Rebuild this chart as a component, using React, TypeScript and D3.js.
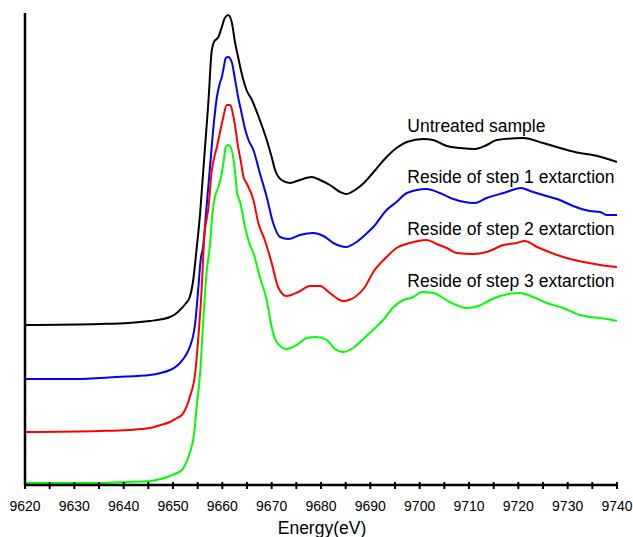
import React, { useEffect, useRef } from "react";
import * as d3 from "d3";

// [energy (eV), normalised absorbance + offset]
const untreated: [number, number][] = [
  [9620, 1.6], [9635.2, 1.61], [9641, 1.62], [9645.3, 1.64], [9648, 1.66],
  [9649.4, 1.68], [9650.5, 1.71], [9651.4, 1.75], [9652.5, 1.81],
  [9653.4, 1.88], [9654.1, 2.05], [9654.7, 2.32], [9655.5, 2.72], [9656.1, 3.12],
  [9656.8, 3.58], [9657.2, 3.85], [9657.8, 4.32], [9658.3, 4.43], [9659.2, 4.48],
  [9659.9, 4.58], [9660.5, 4.67], [9661.2, 4.7], [9661.9, 4.63], [9662.6, 4.42],
  [9663.2, 4.28], [9663.9, 4.12], [9664.9, 3.95], [9666.0, 3.85], [9667.6, 3.65],
  [9669.0, 3.45], [9670.0, 3.28], [9670.7, 3.15], [9672.0, 3.05], [9673.7, 3.02],
  [9675.7, 3.05], [9678.1, 3.08], [9679.8, 3.05], [9681.8, 3.0], [9683.9, 2.93],
  [9685.1, 2.91], [9686.9, 2.95], [9688.9, 3.03], [9690.5, 3.12], [9693.3, 3.28],
  [9695.3, 3.37], [9697.4, 3.43], [9700.7, 3.46], [9702.7, 3.45], [9705.5, 3.39],
  [9708.2, 3.37], [9711.2, 3.36], [9713.6, 3.4], [9715.6, 3.45], [9721.0, 3.47],
  [9725.0, 3.42], [9728.5, 3.37], [9732.5, 3.32], [9735.1, 3.3], [9740, 3.23],
];

const step1: [number, number][] = [
  [9620, 1.06], [9630, 1.06], [9638.6, 1.08], [9645.3, 1.1], [9647.5, 1.12],
  [9649.4, 1.15], [9650.5, 1.18], [9651.4, 1.22], [9652.5, 1.29],
  [9653.4, 1.38], [9654.5, 1.62], [9655.1, 1.95], [9655.6, 2.25], [9656.1, 2.38],
  [9656.8, 2.78], [9657.5, 3.18], [9658.2, 3.58], [9658.9, 3.88], [9659.5, 4.02],
  [9659.9, 4.08], [9660.3, 4.18], [9660.7, 4.27], [9661.2, 4.28], [9661.9, 4.23],
  [9662.6, 4.05], [9663.2, 3.88], [9663.9, 3.72], [9664.6, 3.56], [9665.3, 3.45],
  [9666.3, 3.35], [9667.6, 3.12], [9669.0, 2.88], [9670.3, 2.62], [9671.7, 2.48],
  [9673.4, 2.46], [9675.7, 2.5], [9678.4, 2.52], [9680.5, 2.49], [9682.5, 2.42],
  [9685.1, 2.38], [9686.9, 2.42], [9688.9, 2.5], [9690.6, 2.58], [9693.3, 2.75],
  [9695.3, 2.83], [9697.4, 2.92], [9701.4, 2.96], [9704.1, 2.92], [9706.8, 2.86],
  [9711.2, 2.82], [9713.6, 2.87], [9717.0, 2.92], [9720.6, 2.97], [9722.4, 2.94],
  [9725.0, 2.9], [9728.4, 2.85], [9731.1, 2.79], [9734.5, 2.74], [9736.6, 2.73],
  [9737.9, 2.7], [9740, 2.7],
];

const step2: [number, number][] = [
  [9620, 0.53], [9635.2, 0.54], [9641, 0.55], [9645.3, 0.57], [9647.5, 0.6],
  [9649.4, 0.63], [9650.8, 0.67], [9651.8, 0.7],
  [9652.1, 0.72], [9653.4, 0.88], [9654.5, 1.12], [9655.1, 1.45], [9655.8, 1.95],
  [9656.3, 2.45], [9657.2, 2.78], [9657.8, 3.12], [9658.9, 3.38], [9659.5, 3.52],
  [9660.2, 3.68], [9660.9, 3.8], [9661.6, 3.8], [9662.1, 3.72], [9662.8, 3.52],
  [9663.2, 3.38], [9663.7, 3.25], [9664.3, 3.08], [9664.9, 3.02], [9666.3, 2.85],
  [9667.3, 2.62], [9668.6, 2.45], [9670.0, 2.22], [9671.3, 1.98], [9673.0, 1.89],
  [9675.4, 1.93], [9677.8, 1.99], [9679.8, 1.99], [9681.8, 1.92], [9684.5, 1.84],
  [9686.9, 1.88], [9688.9, 1.98], [9690.6, 2.13], [9693.3, 2.28], [9695.3, 2.37],
  [9698.0, 2.42], [9701.4, 2.45], [9703.5, 2.41], [9705.5, 2.37], [9707.5, 2.32],
  [9710.9, 2.31], [9713.6, 2.33], [9717.0, 2.4], [9719.6, 2.42], [9721.3, 2.44],
  [9723.8, 2.38], [9729.1, 2.28], [9733.2, 2.23], [9736.6, 2.2], [9740, 2.18],
];

const step3: [number, number][] = [
  [9620, 0.02], [9635.2, 0.02], [9641, 0.03], [9645.3, 0.04], [9647.5, 0.06],
  [9649.4, 0.09], [9650.8, 0.12], [9651.8, 0.15],
  [9652.1, 0.17], [9653.4, 0.32], [9654.3, 0.52], [9654.8, 0.78], [9655.5, 1.12],
  [9656.1, 1.62], [9656.8, 2.12], [9657.5, 2.4], [9658.0, 2.72], [9658.5, 2.88],
  [9659.2, 2.98], [9659.9, 3.12], [9660.3, 3.25], [9660.7, 3.38], [9661.2, 3.4],
  [9661.9, 3.35], [9662.6, 3.12], [9663.0, 2.92], [9663.6, 2.83], [9664.6, 2.58],
  [9665.6, 2.4], [9666.3, 2.32], [9667.6, 2.08], [9669.0, 1.85], [9670.0, 1.58],
  [9671.0, 1.43], [9673.0, 1.36], [9675.1, 1.4], [9677.1, 1.47], [9679.1, 1.48],
  [9681.2, 1.45], [9682.8, 1.36], [9684.5, 1.33], [9686.5, 1.37], [9688.6, 1.46],
  [9689.9, 1.52], [9691.2, 1.58], [9692.6, 1.65], [9694.7, 1.78], [9696.7, 1.85],
  [9698.7, 1.88], [9700.4, 1.93], [9702.8, 1.92], [9706.1, 1.83], [9709.5, 1.77],
  [9711.9, 1.79], [9714.3, 1.85], [9716.3, 1.89], [9720.3, 1.92], [9723.0, 1.88],
  [9725.8, 1.82], [9729.1, 1.77], [9732.5, 1.7], [9734.5, 1.68], [9736.6, 1.67],
  [9737.9, 1.66], [9740, 1.64],
];

const seriesNames = [
  "Untreated sample",
  "Reside of step 1 extarction",
  "Reside of step 2 extarction",
  "Reside of step 3 extarction",
];
const seriesData = [untreated, step1, step2, step3];
const seriesColors = ["#000000", "#0000ff", "#ff0000", "#00ff00"];
// label anchor: energy and y value (in data units)
const labelPos: [number, number][] = [
  [9697.5, 3.53], [9697.5, 3.02], [9697.5, 2.5], [9697.5, 1.98],
];

const xTicks = d3.range(9620, 9741, 5);
const xLabels = d3.range(9620, 9741, 10);

const App = () => {
  const ref = useRef<SVGSVGElement>(null);

  useEffect(() => {
    const width = 633;
    const height = 537;
    const svg = d3.select(ref.current);
    svg.selectAll("*").remove();
    svg.attr("width", width).attr("height", height);

    const x = d3.scaleLinear().domain([9620, 9740]).range([25, 617]);
    const y = d3.scaleLinear().domain([0, 4.72]).range([485, 13]);

    const line = d3
      .line<[number, number]>()
      .x((d) => x(d[0]))
      .y((d) => y(d[1]))
      .curve(d3.curveMonotoneX);

    seriesData.forEach((s, i) => {
      svg
        .append("path")
        .attr("d", line(s))
        .attr("fill", "none")
        .attr("stroke", seriesColors[i])
        .attr("stroke-width", 2)
        .attr("stroke-linejoin", "round");
    });

    // axes
    svg
      .append("line")
      .attr("x1", x(9620))
      .attr("x2", x(9620))
      .attr("y1", y(4.72))
      .attr("y2", y(0))
      .attr("stroke", "#000")
      .attr("stroke-width", 2.5);

    svg
      .append("line")
      .attr("x1", x(9620))
      .attr("x2", x(9740))
      .attr("y1", y(0))
      .attr("y2", y(0))
      .attr("stroke", "#000")
      .attr("stroke-width", 2.5);

    svg
      .selectAll(".tick")
      .data(xTicks)
      .enter()
      .append("line")
      .attr("x1", (d) => x(d))
      .attr("x2", (d) => x(d))
      .attr("y1", y(0) - 3)
      .attr("y2", y(0) + 4)
      .attr("stroke", "#000")
      .attr("stroke-width", 2);

    svg
      .selectAll(".tlabel")
      .data(xLabels)
      .enter()
      .append("text")
      .attr("x", (d) => x(d))
      .attr("y", 511)
      .attr("text-anchor", "middle")
      .attr("font-family", "Liberation Sans, Arial, sans-serif")
      .attr("font-size", 14)
      .text((d) => d);

    svg
      .append("text")
      .attr("x", 322)
      .attr("y", 534)
      .attr("text-anchor", "middle")
      .attr("font-family", "Liberation Sans, Arial, sans-serif")
      .attr("font-size", 17.5)
      .text("Energy(eV)");

    svg
      .selectAll(".slabel")
      .data(seriesNames)
      .enter()
      .append("text")
      .attr("x", (d, i) => x(labelPos[i][0]))
      .attr("y", (d, i) => y(labelPos[i][1]))
      .attr("font-family", "Liberation Sans, Arial, sans-serif")
      .attr("font-size", 17.5)
      .text((d) => d);
  }, []);

  return (
    <svg
      ref={ref}
      style={{ position: "absolute", left: 0, top: 0, display: "block" }}
    ></svg>
  );
};

export default App;
